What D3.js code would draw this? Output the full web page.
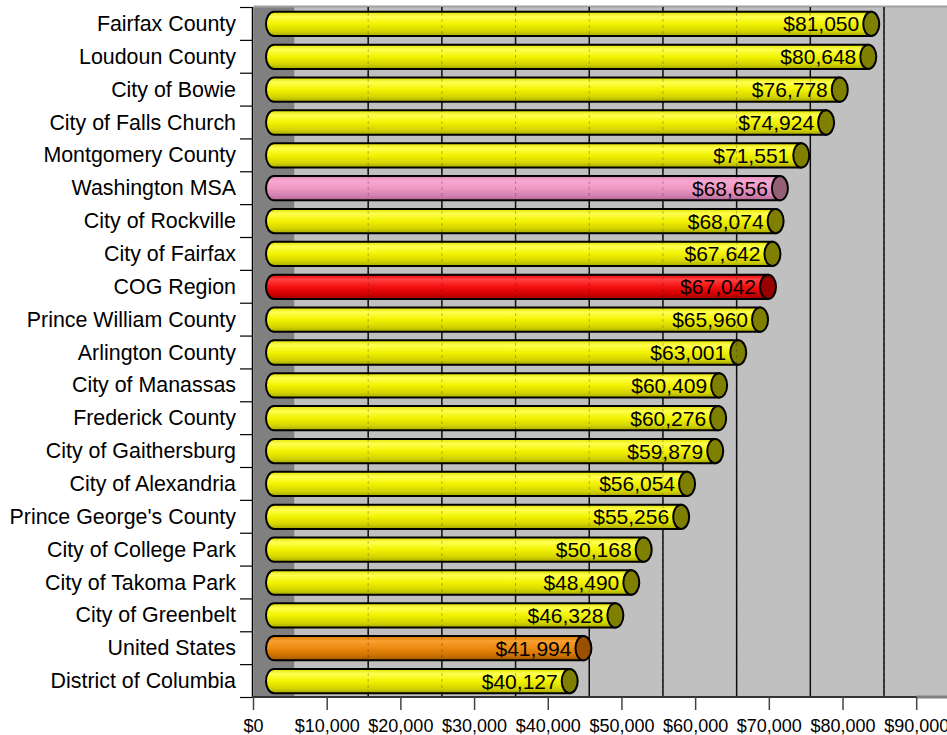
<!DOCTYPE html>
<html><head><meta charset="utf-8">
<script src="https://cdn.jsdelivr.net/npm/d3@7/dist/d3.min.js"></script>
<style>
html,body{margin:0;padding:0;background:#fff;}
svg{display:block;font-family:Arial,"Liberation Sans",sans-serif;}
</style></head>
<body>
<svg id="chart" width="947" height="735"></svg>
<script>
const categories = ["Fairfax County","Loudoun County","City of Bowie","City of Falls Church","Montgomery County","Washington MSA","City of Rockville","City of Fairfax","COG Region","Prince William County","Arlington County","City of Manassas","Frederick County","City of Gaithersburg","City of Alexandria","Prince George's County","City of College Park","City of Takoma Park","City of Greenbelt","United States","District of Columbia"];
const values = [81050,80648,76778,74924,71551,68656,68074,67642,67042,65960,63001,60409,60276,59879,56054,55256,50168,48490,46328,41994,40127];
const highlight = {"Washington MSA":"pink","COG Region":"red","United States":"orange"};
const tickValues = [0,10000,20000,30000,40000,50000,60000,70000,80000,90000];

const palettes = {
  yellow:{stops:["#e0e000","#ffff50","#f2f200","#d4d400","#a8a800"],cap:"#808000"},
  pink:{stops:["#e088b8","#f7a8d0","#ee98c4","#d480b0","#b06890"],cap:"#946078"},
  red:{stops:["#e00000","#ff4040","#f41010","#d00000","#a00000"],cap:"#990000"},
  orange:{stops:["#d87800","#f8a030","#ec8a10","#cc7000","#a05800"],cap:"#9a5000"}
};

const svg = d3.select("#chart");
const x = d3.scaleLinear().domain([0,90000]).range([253.5,916.7]);
const y = d3.scaleBand().domain(categories).range([7,697]).padding(0);
const depth = 41, off = depth/2;
const plotTop = 7, plotBottom = 697;

const defs = svg.append("defs");
Object.entries(palettes).forEach(([k,p])=>{
  const g = defs.append("linearGradient").attr("id","g-"+k).attr("x1",0).attr("y1",0).attr("x2",0).attr("y2",1);
  [0,0.2,0.5,0.8,1].forEach((o,i)=>g.append("stop").attr("offset",o).attr("stop-color",p.stops[i]));
});

// back wall
svg.append("rect").attr("x",x(0)+depth).attr("y",plotTop).attr("width",947-(x(0)+depth)+20).attr("height",plotBottom-plotTop).attr("fill","#c0c0c0");
// left wall
svg.append("rect").attr("x",x(0)).attr("y",plotTop).attr("width",depth).attr("height",plotBottom-plotTop).attr("fill","#808080");
// top edge
svg.append("line").attr("x1",x(0)).attr("x2",947).attr("y1",plotTop-0.5).attr("y2",plotTop-0.5).attr("stroke","#a0a0a0").attr("stroke-width",2);

// gridlines on back wall
const grid = tickValues.filter(v=>v>0);
svg.append("g").selectAll("line").data(grid).join("line")
  .attr("x1",d=>x(d)+depth).attr("x2",d=>x(d)+depth)
  .attr("y1",plotTop).attr("y2",plotBottom)
  .attr("stroke","#111").attr("stroke-width",1.5);

// bars
const bh = y.bandwidth()*0.74, rx = 8;
const bars = svg.append("g").selectAll("g").data(categories).join("g");
bars.each(function(c,i){
  const g = d3.select(this);
  const pal = highlight[c] || "yellow";
  const cy = y(c)+y.bandwidth()/2 + 0.5;
  const x0 = x(0)+off, x1 = x(values[i])+off;
  const top = cy-bh/2, bot = cy+bh/2;
  const ry = bh/2;
  const path = `M${x0},${top} L${x1},${top} L${x1},${bot} L${x0},${bot} A${rx},${ry} 0 0 1 ${x0},${top} Z`;
  g.append("path").attr("d",path).attr("fill","url(#g-"+pal+")").attr("stroke","#000").attr("stroke-width",2);
  g.append("ellipse").attr("cx",x1).attr("cy",cy).attr("rx",rx).attr("ry",ry)
    .attr("fill",palettes[pal].cap).attr("stroke","#000").attr("stroke-width",2);
  g.append("text").attr("x",x1-rx-4).attr("y",cy+7.5).attr("text-anchor","end")
    .attr("font-size",21).attr("fill","#000").text("$"+d3.format(",")(values[i]));
});

// faint dashed gridlines showing through bars
svg.append("g").selectAll("line").data(grid).join("line")
  .attr("x1",d=>x(d)+depth).attr("x2",d=>x(d)+depth)
  .attr("y1",plotTop).attr("y2",plotBottom)
  .attr("stroke","#000").attr("stroke-opacity",0.25).attr("stroke-dasharray","3,3").attr("stroke-width",1);

// y axis
svg.append("line").attr("x1",x(0)-1).attr("x2",x(0)-1).attr("y1",plotTop).attr("y2",plotBottom).attr("stroke","#000").attr("stroke-width",1.5);
const bounds = categories.map(c=>y(c)).concat([plotBottom]);
svg.append("g").selectAll("line").data(bounds).join("line")
  .attr("x1",240).attr("x2",x(0)-1).attr("y1",d=>d+0.5).attr("y2",d=>d+0.5)
  .attr("stroke","#000").attr("stroke-width",1.2);
svg.append("g").selectAll("text").data(categories).join("text")
  .attr("x",236).attr("y",c=>y(c)+y.bandwidth()/2+7.5).attr("text-anchor","end")
  .attr("font-size",21.4).attr("fill","#000").text(c=>c);

// x axis
svg.append("line").attr("x1",x(90000)).attr("x2",947).attr("y1",plotBottom).attr("y2",plotBottom).attr("stroke","#808080").attr("stroke-width",3);
svg.append("line").attr("x1",x(0)-1.5).attr("x2",x(90000)).attr("y1",plotBottom).attr("y2",plotBottom).attr("stroke","#333").attr("stroke-width",2);
svg.append("g").selectAll("line").data(tickValues).join("line")
  .attr("x1",d=>x(d)).attr("x2",d=>x(d)).attr("y1",plotBottom).attr("y2",plotBottom+13)
  .attr("stroke","#444").attr("stroke-width",1.5);
svg.append("g").selectAll("text").data(tickValues).join("text")
  .attr("x",d=>x(d)).attr("y",731.5).attr("text-anchor","middle")
  .attr("font-size",18).attr("fill","#000").text(d=>"$"+d3.format(",")(d));
</script>
</body></html>
